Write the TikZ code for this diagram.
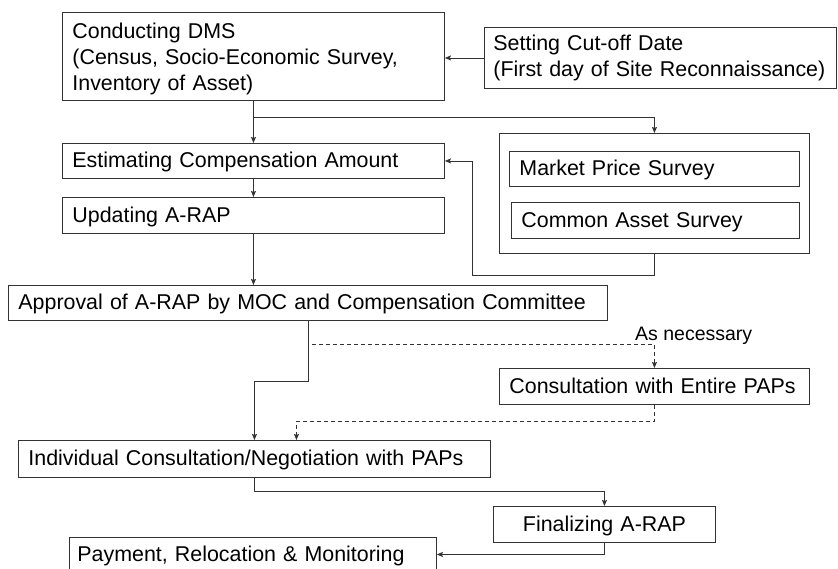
\documentclass[tikz,border=0pt]{standalone}
\usepackage{fontspec}
\setmainfont{Liberation Sans}
\usetikzlibrary{arrows.meta}

\begin{document}
\begin{tikzpicture}[
    x=1pt, y=-1pt,
    box/.style={draw=black!80, line width=0.9pt, anchor=north west, align=left, inner xsep=10pt, inner ysep=0pt, text height=18pt, text depth=4pt, font=\fontsize{21.4}{26}\selectfont},
    multiline/.style={text height={}, text depth={}},
    arrow/.style={-{Stealth[length=6pt, width=5pt, inset=1pt]}, line width=0.9pt, draw=black!80},
    optional/.style={dash pattern=on 4pt off 3pt}
]
    \useasboundingbox[fill=white] (0,0) rectangle (838,568);

    % Nodes
    \node[box, multiline, text width=362pt, minimum height=88pt] (dms) at (62,12) {\rule{0pt}{20pt}Conducting DMS\\(Census, Socio-Economic Survey,\\Inventory of Asset)};
    \node[box, multiline, inner xsep=9pt, text width=334pt, minimum height=61pt] (cutoff) at (484,27) {Setting Cut-off Date\\(First day of Site Reconnaissance)};
    \node[box, text width=362pt, minimum height=35pt] (estimate) at (62,143) {Estimating Compensation Amount};
    \node[box, text width=362pt, minimum height=36pt] (update) at (62,197) {Updating A-RAP};
    \node[box, minimum width=310pt, minimum height=120pt] (survey) at (499,133) {};
    \node[box, text width=270pt, minimum height=35pt] (market) at (509,151) {Market Price Survey};
    \node[box, text width=268pt, minimum height=36pt] (common) at (511,202) {Common Asset Survey};
    \node[box, text width=579pt, minimum height=35pt] (approval) at (8,285) {Approval of A-RAP by MOC and Compensation Committee};
    \node[box, text width=290pt, minimum height=36pt] (consult) at (499,368) {Consultation with Entire PAPs};
    \node[box, text width=452pt, minimum height=37pt] (indiv) at (18,440) {Individual Consultation/Negotiation with PAPs};
    \node[box, align=center, text width=202pt, minimum height=36pt] (final) at (493,506) {Finalizing A-RAP};
    \node[box, inner xsep=8pt, text width=351pt, minimum height=34pt] (pay) at (69,537) {Payment, Relocation \& Monitoring};
    \node[anchor=base west, inner sep=0pt, font=\fontsize{19.5}{22}\selectfont] (note) at (635,340) {As necessary};

    % Arrows
    \coordinate (fork) at (253,117);
    \coordinate (back) at (472,275);
    \draw[arrow] (cutoff.west) -- (cutoff.west -| dms.east);
    \draw[arrow] (dms.south) -- (estimate.north);
    \draw[arrow] (fork) -| (survey.north);
    \draw[arrow] (estimate.south) -- (update.north);
    \draw[arrow] (survey.south) |- (back) |- (estimate.east);
    \draw[arrow] (update.south) -- (update.south |- approval.north);
    \draw[arrow, optional] (approval.south) -- ++(0,24) -| (consult.north);
    \draw[arrow] (approval.south) -- ++(0,61) -| (indiv.north);
    \draw[arrow, optional] (consult.south) -- ++(0,17) -| ([xshift=42pt]indiv.north);
    \draw[arrow] (indiv.south) -- ++(0,14) -| (final.north);
    \draw[arrow] (final.south) |- (pay.east);
\end{tikzpicture}
\end{document}
